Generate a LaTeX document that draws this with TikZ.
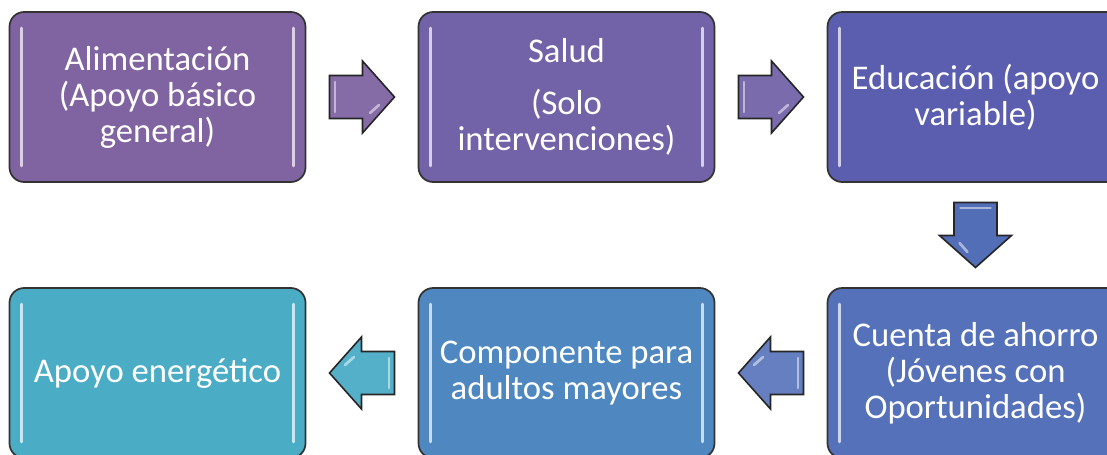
\documentclass[tikz,border=0pt]{standalone}
\usepackage{fontspec}
\setmainfont{Carlito}
\usetikzlibrary{calc}

\definecolor{alimcol}{HTML}{8064A2}
\definecolor{saludcol}{HTML}{7263A8}
\definecolor{educol}{HTML}{5B5EAE}
\definecolor{ahorrocol}{HTML}{5571B9}
\definecolor{adultcol}{HTML}{4F88C1}
\definecolor{energcol}{HTML}{4BACC6}
\newcommand\boxfont{\fontsize{26}{27}\selectfont}

\tikzset{
  gloss/.style={white, opacity=0.7, line width=2pt, line cap=round},
  stagebox/.style={draw=black!80, line width=1.3pt, rounded corners=11pt,
    minimum width=222pt, minimum height=127.5pt, align=center,
    text=white, font=\boxfont,
    path picture={
      \draw[gloss] ([xshift=9pt,yshift=-12pt]path picture bounding box.north west)
        -- ([xshift=9pt,yshift=12pt]path picture bounding box.south west);
      \draw[gloss] ([xshift=-9pt,yshift=-12pt]path picture bounding box.north east)
        -- ([xshift=-9pt,yshift=12pt]path picture bounding box.south east);
    }},
  blockarrow/.pic={
    \draw[draw=black!85, line width=1.2pt, line join=miter, pic actions]
      (-32.5,-21.5) -- (0.5,-21.5) -- (0.5,-36) -- (32.5,0)
      -- (0.5,36) -- (0.5,21.5) -- (-32.5,21.5) -- cycle;
    \draw[gloss, opacity=0.5] (-27,-15) -- (-27,15);
    \draw[gloss, opacity=0.5] (8,16) -- (17,8);
  }
}

\begin{document}
\begin{tikzpicture}[x=0.75pt,y=-0.75pt]
    \clip (0,0) rectangle (1107,454);
    % top row
    \node[stagebox, fill=alimcol] (alim) at (157.5,97)
      {Alimentación\\(Apoyo básico\\general)};
    \node[stagebox, fill=saludcol] (salud) at (566.5,97)
      {Salud\\[12pt](Solo\\intervenciones)};
    \node[stagebox, fill=educol] (edu) at (975.5,97)
      {Educación (apoyo\\variable)};
    % bottom row
    \node[stagebox, fill=ahorrocol] (ahorro) at (975.5,373)
      {Cuenta de ahorro\\(Jóvenes con\\Oportunidades)};
    \node[stagebox, fill=adultcol] (adult) at (566.5,373)
      {Componente para\\adultos mayores};
    \node[stagebox, fill=energcol] (energ) at (157.5,373)
      {Apoyo energético};
    % block arrows
    \pic[fill=alimcol!95!white] at ($(alim.east)!0.5!(salud.west)$) {blockarrow};
    \pic[fill=saludcol!95!white] at ($(salud.east)!0.5!(edu.west)$) {blockarrow};
    \pic[fill=educol!90!cyan, rotate=-90] at ($(edu.south)!0.5!(ahorro.north)$) {blockarrow};
    \pic[fill=ahorrocol!90!white, rotate=180] at ($(ahorro.west)!0.5!(adult.east)$) {blockarrow};
    \pic[fill=energcol!95!white, rotate=180] at ($(adult.west)!0.5!(energ.east)$) {blockarrow};
  \end{tikzpicture}
\end{document}
